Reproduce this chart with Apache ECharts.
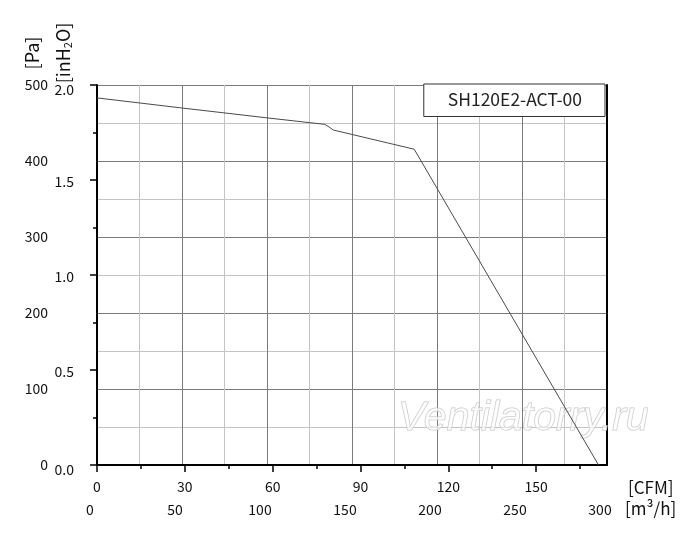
<!DOCTYPE html>
<html>
<head>
<meta charset="utf-8">
<script src="https://cdn.jsdelivr.net/npm/echarts@6/dist/echarts.min.js"></script>
<style>
html,body{margin:0;padding:0;background:#fff;}
#chart{width:700px;height:545px;}
</style>
</head>
<body>
<div id="chart"></div>
<script>
// ---- data ----
const modelName = 'SH120E2-ACT-00';
// airflow in m³/h and static pressure in inH2O
const flowM3h       = [0,     50,    100,   134,   136.5, 139,   186.6, 295];
const pressureInH2O = [1.932, 1.879, 1.827, 1.793, 1.779, 1.763, 1.662, 0];

// tick / label values
const m3hLabels       = [0, 50, 100, 150, 200, 250, 300];
const cfmMajorTicks   = [0, 30, 60, 90, 120, 150];
const cfmMinorTicks   = [15, 45, 75, 105, 135, 165];
const cfmAxisMax      = 174.2;
const inH2OMajorTicks = [0, 0.5, 1, 1.5, 2];
const inH2OMinorTicks = [0.25, 0.75, 1.25, 1.75];
const paLabels        = [0, 100, 200, 300, 400, 500];

// ---- styling ----
const numFont = "'Liberation Sans Narrow', 'Noto Sans CJK JP', sans-serif";
const txtFont = "'Noto Sans CJK JP', 'Noto Sans', sans-serif";
const gridColors = ['#7a7a7a', '#c4c4c4'];
const textColor = '#111';

const seriesData = flowM3h.map((f, i) => [f, pressureInH2O[i]]);

const chart = echarts.init(document.getElementById('chart'), null, {renderer: 'canvas'});

const numLabel = {fontFamily: numFont, fontSize: 14, color: textColor};

const option = {
  animation: false,
  backgroundColor: '#fff',
  grid: {left: 97, right: 93, top: 85, bottom: 80, containLabel: false},
  legend: {
    data: [modelName],
    right: 95,
    top: 84,
    itemWidth: 0,
    itemHeight: 0,
    padding: [7, 23, 8, 18],
    backgroundColor: '#fff',
    borderColor: '#333',
    borderWidth: 1,
    selectedMode: false,
    textStyle: {fontFamily: txtFont, fontSize: 17.5, color: '#222'},
    z: 10
  },
  xAxis: [
    { // m³/h : grid lines + lower labels
      type: 'value', min: 0, max: 300, interval: 25, position: 'bottom',
      axisLine: {show: true, onZero: false, lineStyle: {color: '#000', width: 2}},
      axisTick: {show: false},
      axisLabel: Object.assign({customValues: m3hLabels, margin: 38, padding: [0, 14, 0, 0]}, numLabel),
      splitLine: {show: true, lineStyle: {color: gridColors, width: 1}}
    },
    { // CFM : major ticks + upper labels
      type: 'value', min: 0, max: cfmAxisMax, position: 'bottom',
      axisLine: {show: false},
      axisTick: {show: true, customValues: cfmMajorTicks, length: 7, lineStyle: {color: '#000', width: 1.5}},
      axisLabel: Object.assign({customValues: cfmMajorTicks, margin: 15}, numLabel),
      splitLine: {show: false}
    },
    { // CFM : minor ticks
      type: 'value', min: 0, max: cfmAxisMax, position: 'bottom',
      axisLine: {show: false},
      axisTick: {show: true, customValues: cfmMinorTicks, length: 4, lineStyle: {color: '#000', width: 1.5}},
      axisLabel: {show: false},
      splitLine: {show: false}
    }
  ],
  yAxis: [
    { // inH2O
      type: 'value', min: 0, max: 2, position: 'left',
      axisLine: {show: true, onZero: false, lineStyle: {color: '#000', width: 2}},
      axisTick: {show: true, customValues: inH2OMajorTicks, length: 7, lineStyle: {color: '#000', width: 1.5}},
      axisLabel: {
        customValues: inH2OMajorTicks, margin: 23,
        formatter: v => (v === 0 || v === 2 ? '{e|' : '{m|') + v.toFixed(1) + '}',
        rich: {
          e: {fontFamily: numFont, fontSize: 14, color: textColor, padding: [10, 0, 0, 0]},
          m: {fontFamily: numFont, fontSize: 14, color: textColor, padding: [3, 0, 0, 0]}
        }
      },
      splitLine: {show: false}
    },
    { // inH2O minor ticks
      type: 'value', min: 0, max: 2, position: 'left',
      axisLine: {show: false},
      axisTick: {show: true, customValues: inH2OMinorTicks, length: 4, lineStyle: {color: '#000', width: 1.5}},
      axisLabel: {show: false},
      splitLine: {show: false}
    },
    { // Pa
      type: 'value', min: 0, max: 500, interval: 50, position: 'left',
      axisLine: {show: false},
      axisTick: {show: false},
      axisLabel: Object.assign({customValues: paLabels, margin: 49, padding: [4, 0, 0, 0]}, numLabel),
      splitLine: {show: true, lineStyle: {color: gridColors, width: 1}}
    },
    { // right frame
      type: 'value', min: 0, max: 2, position: 'right',
      axisLine: {show: true, onZero: false, lineStyle: {color: '#000', width: 2}},
      axisTick: {show: false},
      axisLabel: {show: false},
      splitLine: {show: false}
    }
  ],
  graphic: [
    {
      type: 'text', x: 32, y: 53, rotation: Math.PI / 2, silent: true,
      style: {text: '[Pa]', fontFamily: txtFont, fontSize: 18, fill: textColor,
              align: 'center', verticalAlign: 'middle', textAlign: 'center', textVerticalAlign: 'middle'}
    },
    {
      type: 'text', x: 63, y: 53, rotation: Math.PI / 2, silent: true,
      style: {
        text: '{a|[inH}{s|2}{a|O]}',
        align: 'center', verticalAlign: 'middle', textAlign: 'center', textVerticalAlign: 'middle',
        rich: {
          a: {fontFamily: txtFont, fontSize: 18, lineHeight: 20, fill: textColor, color: textColor},
          s: {fontFamily: txtFont, fontSize: 11, lineHeight: 11, fill: textColor, color: textColor,
              padding: [7, 0, 0, 0], verticalAlign: 'bottom'}
        }
      }
    },
    {
      type: 'text', x: 628, y: 488, silent: true,
      style: {text: '[CFM]', fontFamily: txtFont, fontSize: 17, fill: textColor,
              align: 'left', verticalAlign: 'middle', textAlign: 'left', textVerticalAlign: 'middle'}
    },
    {
      type: 'text', x: 625, y: 509, silent: true,
      style: {text: '[m³/h]', fontFamily: txtFont, fontSize: 17, fill: textColor,
              align: 'left', verticalAlign: 'middle', textAlign: 'left', textVerticalAlign: 'middle'}
    },
    {
      type: 'text', x: 398, y: 419, z: 1, silent: true,
      style: {text: 'Ventilatorry.ru', fontFamily: "'Liberation Sans', sans-serif", fontSize: 41,
              fontStyle: 'italic', fill: 'rgba(255,255,255,0.6)', stroke: '#c4c4c4', lineWidth: 1,
              align: 'left', verticalAlign: 'middle', textAlign: 'left', textVerticalAlign: 'middle'}
    }
  ],
  series: [
    {
      type: 'line', name: modelName, xAxisIndex: 0, yAxisIndex: 0,
      data: seriesData, symbol: 'none', silent: true, z: 3,
      lineStyle: {color: '#4a4a4a', width: 1},
      itemStyle: {color: '#4a4a4a'}
    }
  ]
};

chart.setOption(option);
</script>
</body>
</html>
